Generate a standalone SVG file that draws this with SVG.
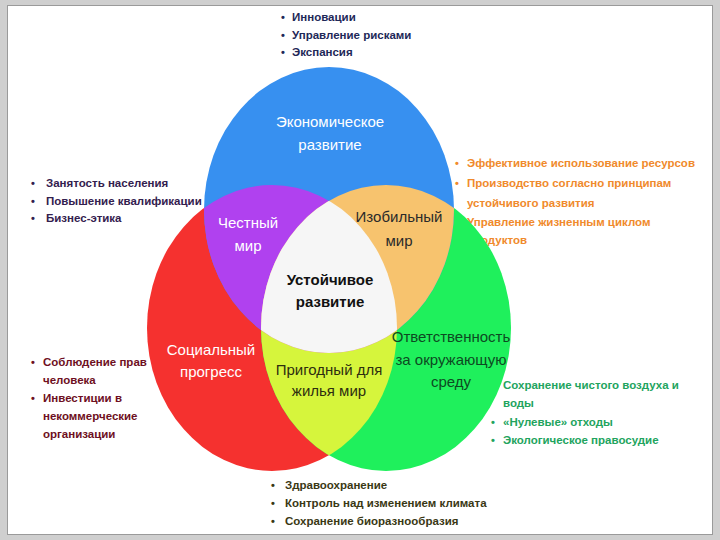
<svg xmlns="http://www.w3.org/2000/svg" width="720" height="540" viewBox="0 0 720 540">
<style>
.t{font-family:"Liberation Sans",Arial,sans-serif;font-size:11.5px;font-weight:bold}
.b{font-family:"Liberation Sans",Arial,sans-serif;font-size:11px;font-weight:bold}
.lbl{font-family:"Liberation Sans",Arial,sans-serif;font-size:15px;text-anchor:middle}
.navy{fill:#1e2858}
.purp{fill:#33204e}
.orng{fill:#f08a2c}
.dred{fill:#6e0f22}
.grn{fill:#22a45e}
.olv{fill:#3a3814}
</style>
<defs>
<ellipse id="eB" cx="329" cy="210" rx="125" ry="143"/>
<ellipse id="eR" cx="272" cy="328" rx="125" ry="143"/>
<ellipse id="eG" cx="386" cy="328" rx="125" ry="143"/>
<clipPath id="cR"><use href="#eR"/></clipPath>
<clipPath id="cG"><use href="#eG"/></clipPath>
<clipPath id="cB"><use href="#eB"/></clipPath>
</defs>
<rect x="0" y="0" width="720" height="540" fill="#cfcfcf"/>
<rect x="7.5" y="5.5" width="705" height="529" fill="#ffffff" stroke="#9a9a9a" stroke-width="1"/>

<g id="list-top">
<text class="b navy" x="281" y="21">•</text><text class="t navy" x="292" y="21">Инновации</text>
<text class="b navy" x="281" y="39">•</text><text class="t navy" x="292" y="39">Управление рисками</text>
<text class="b navy" x="281" y="56">•</text><text class="t navy" x="292" y="56">Экспансия</text>
</g>
<g id="list-left-top">
<text class="b purp" x="31" y="187">•</text><text class="t purp" x="46" y="187">Занятость населения</text>
<text class="b purp" x="31" y="205">•</text><text class="t purp" x="46" y="205">Повышение квалификации</text>
<text class="b purp" x="31" y="222">•</text><text class="t purp" x="46" y="222">Бизнес-этика</text>
</g>
<g id="list-right-top">
<text class="b orng" x="455" y="167">•</text><text class="t orng" x="467" y="167">Эффективное использование ресурсов</text>
<text class="b orng" x="455" y="187">•</text><text class="t orng" x="467" y="187">Производство согласно принципам</text>
<text class="t orng" x="467" y="207">устойчивого развития</text>
<text class="b orng" x="455" y="226">•</text><text class="t orng" x="467" y="226">Управление жизненным циклом</text>
<text class="t orng" x="467" y="244">продуктов</text>
</g>
<g id="list-left-bottom">
<text class="b dred" x="31" y="366">•</text><text class="t dred" x="43" y="366">Соблюдение прав</text>
<text class="t dred" x="43" y="384">человека</text>
<text class="b dred" x="31" y="402">•</text><text class="t dred" x="43" y="402">Инвестиции в</text>
<text class="t dred" x="43" y="420">некоммерческие</text>
<text class="t dred" x="43" y="438">организации</text>
</g>
<g id="list-right-bottom">
<text class="b grn" x="491" y="389">•</text><text class="t grn" x="503" y="389">Сохранение чистого воздуха и</text>
<text class="t grn" x="503" y="407">воды</text>
<text class="b grn" x="491" y="426">•</text><text class="t grn" x="503" y="426">«Нулевые» отходы</text>
<text class="b grn" x="491" y="444">•</text><text class="t grn" x="503" y="444">Экологическое правосудие</text>
</g>
<g id="list-bottom">
<text class="b olv" x="271" y="489">•</text><text class="t olv" x="285" y="489">Здравоохранение</text>
<text class="b olv" x="271" y="507">•</text><text class="t olv" x="285" y="507">Контроль  над изменением климата</text>
<text class="b olv" x="271" y="525">•</text><text class="t olv" x="285" y="525">Сохранение биоразнообразия</text>
</g>

<g id="circle-social"><use href="#eR" fill="#f5312f"/></g>
<g id="circle-ecology"><use href="#eG" fill="#1ff05c"/></g>
<g id="circle-economy"><use href="#eB" fill="#3790f0"/></g>
<g id="region-livable"><g clip-path="url(#cR)"><use href="#eG" fill="#d6f53c"/></g></g>
<g id="region-fair"><g clip-path="url(#cR)"><use href="#eB" fill="#b041ef"/></g></g>
<g id="region-abundant"><g clip-path="url(#cG)"><use href="#eB" fill="#f7c36e"/></g></g>
<g id="region-sustainable"><g clip-path="url(#cG)"><g clip-path="url(#cR)"><use href="#eB" fill="#f6f6f6"/></g></g></g>

<g id="labels">
<text class="lbl" x="330" y="127" fill="#ffffff">Экономическое</text>
<text class="lbl" x="330" y="150" fill="#ffffff">развитие</text>
<text class="lbl" x="248" y="228" fill="#ffffff">Честный</text>
<text class="lbl" x="248" y="251" fill="#ffffff">мир</text>
<text class="lbl" x="399" y="222" fill="#2a2a2a" font-size="16">Изобильный</text>
<text class="lbl" x="399" y="246" fill="#2a2a2a" font-size="16">мир</text>
<text class="lbl" x="330" y="285" fill="#111111" font-weight="bold" font-size="14.5">Устойчивое</text>
<text class="lbl" x="330" y="307" fill="#111111" font-weight="bold" font-size="14.5">развитие</text>
<text class="lbl" x="211" y="355" fill="#ffffff">Социальный</text>
<text class="lbl" x="211" y="377" fill="#ffffff">прогресс</text>
<text class="lbl" x="329" y="375" fill="#2e2e10">Пригодный для</text>
<text class="lbl" x="329" y="396" fill="#2e2e10">жилья мир</text>
<text class="lbl" x="451" y="342" fill="#0d4a22">Ответственность</text>
<text class="lbl" x="451" y="365" fill="#0d4a22">за окружающую</text>
<text class="lbl" x="451" y="387" fill="#0d4a22">среду</text>
</g>
</svg>
